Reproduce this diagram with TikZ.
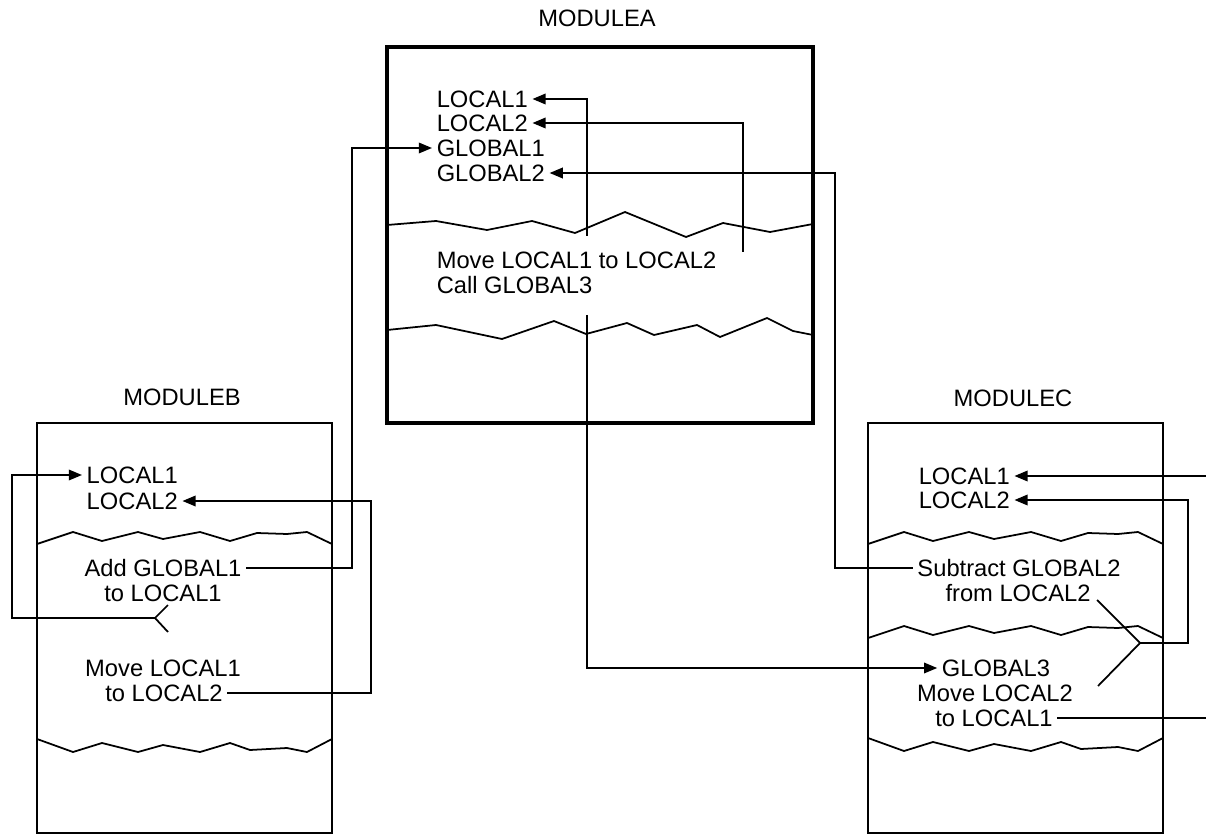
\documentclass[tikz,border=0pt]{standalone}
\usepackage{fontspec}
\setmainfont{Liberation Sans}
\usetikzlibrary{arrows.meta}

\begin{document}
\begin{tikzpicture}[
  x=0.02cm, y=-0.02cm,
  mainmod/.style={draw, line width=2pt},
  module/.style={draw, line width=1.1pt},
  cut/.style={line width=1pt},
  modname/.style={font=\fontsize{13.5}{16}\selectfont},
  item/.style={font=\fontsize{13.5}{16}\selectfont, anchor=west,
               inner xsep=2.5pt, inner ysep=0pt},
  stmt/.style={font=\fontsize{13.5}{16}\selectfont,
               inner xsep=2.5pt, inner ysep=0pt},
  link/.style={line width=1pt},
  feed/.style={link, -{Triangle[length=7.5pt, width=6pt]}}
]
\useasboundingbox (0,0) rectangle (1206,834);

% torn edges (x of left side, top of the zigzag)
\def\cutup#1#2{\draw[cut] (#1,#2+12) -- ++(36,-12) -- ++(29,9) -- ++(36,-9)
  -- ++(25,7) -- ++(37,-7) -- ++(30,9) -- ++(27,-8) -- ++(30,1) -- ++(20,-2) -- ++(25,12);}
\def\cutdown#1#2{\draw[cut] (#1,#2) -- ++(36,13) -- ++(29,-9) -- ++(36,9)
  -- ++(25,-7) -- ++(37,7) -- ++(30,-9) -- ++(20,7) -- ++(37,-2) -- ++(20,4) -- ++(25,-13);}

% rails for the connectors
\coordinate (railB) at (352,0);
\coordinate (railA) at (835,0);
\coordinate (railBL) at (371,0);
\coordinate (railC) at (1188,0);
\coordinate (edge) at (1206,0);

% module A
\node[modname] (tA) at (597,18) {MODULEA};
\draw[mainmod] (387,47) rectangle (813,423);
\node[item] (aL1) at (432,99) {LOCAL1};
\node[item] (aL2) at (432,123) {LOCAL2};
\node[item] (aG1) at (432,148) {GLOBAL1};
\node[item] (aG2) at (432,173) {GLOBAL2};
\node[item] (aMove) at (432,260) {Move LOCAL1 to LOCAL2};
\node[item] (aCall) at (432,285) {Call GLOBAL3};
\draw[cut] (387,225) -- (436,221) -- (487,230) -- (532,221) -- (575,233) -- (625,212)
  -- (686,237) -- (723,223) -- (770,232) -- (813,224);
\draw[cut] (387,330) -- (436,325) -- (502,339) -- (554,321) -- (586,334) -- (627,323)
  -- (654,335) -- (697,325) -- (720,337) -- (767,318) -- (793,331) -- (813,335);

% module B
\node[modname] (tB) at (182,397) {MODULEB};
\draw[module] (37,423) rectangle (332,833);
\node[item] (bL1) at (82,475) {LOCAL1};
\node[item] (bL2) at (82,501) {LOCAL2};
\node[stmt] (bAdd) at (163,568) {Add GLOBAL1};
\node[stmt] (bTo1) at (163,593) {to LOCAL1};
\node[stmt] (bMove) at (163,668) {Move LOCAL1};
\node[stmt] (bTo2) at (164,693) {to LOCAL2};
\cutup{37}{532}
\cutdown{37}{739}

% module C
\node[modname] (tC) at (1013,398) {MODULEC};
\draw[module] (868,423) rectangle (1163,833);
\node[item] (cL1) at (914,476) {LOCAL1};
\node[item] (cL2) at (914,500) {LOCAL2};
\node[stmt] (cSub) at (1019,568) {Subtract GLOBAL2};
\node[stmt] (cFrom) at (1018,593) {from LOCAL2};
\node[stmt] (cG3) at (996,668) {GLOBAL3};
\node[stmt] (cMove) at (995,693) {Move LOCAL2};
\node[stmt] (cTo1) at (994,718) {to LOCAL1};
\cutup{868}{532}
\cutup{868}{626}
\cutdown{868}{738}

% references inside module A
\coordinate (aUse1) at (587,236);
\coordinate (aUse2) at (743,252);
\coordinate (aCallEnd) at (587,315);
\draw[feed] (aUse1) |- (aL1.east);
\draw[feed] (aUse2) |- (aL2.east);

% module A <-> B and C
\draw[feed] (bAdd.east) -| (aG1.west -| railB) -- (aG1.west);
\draw[feed] (cSub.west) -| (aG2.east -| railA) -- (aG2.east);
\draw[feed] (aCallEnd) |- (cG3.west);

% references inside module B
\coordinate (bTip) at (155,618);
\draw[link] (bTip) -- ++(13,-13) (bTip) -- ++(13,14);
\draw[feed] (bTip) -- ++(-143,0) |- (bL1.west);
\draw[feed] (bTo2.east) -| (bL2.east -| railBL) -- (bL2.east);

% references inside module C
\coordinate (cTip) at (1140,643);
\draw[link] (cTip) -- ++(-43,-43) (cTip) -- ++(-42,43);
\draw[feed] (cTip) -| (cL2.east -| railC) -- (cL2.east);
\draw[feed] (cL1.east -| edge) -- (cL1.east);
\draw[link] (cTo1.east) -- (cTo1.east -| edge);

\end{tikzpicture}
\end{document}
